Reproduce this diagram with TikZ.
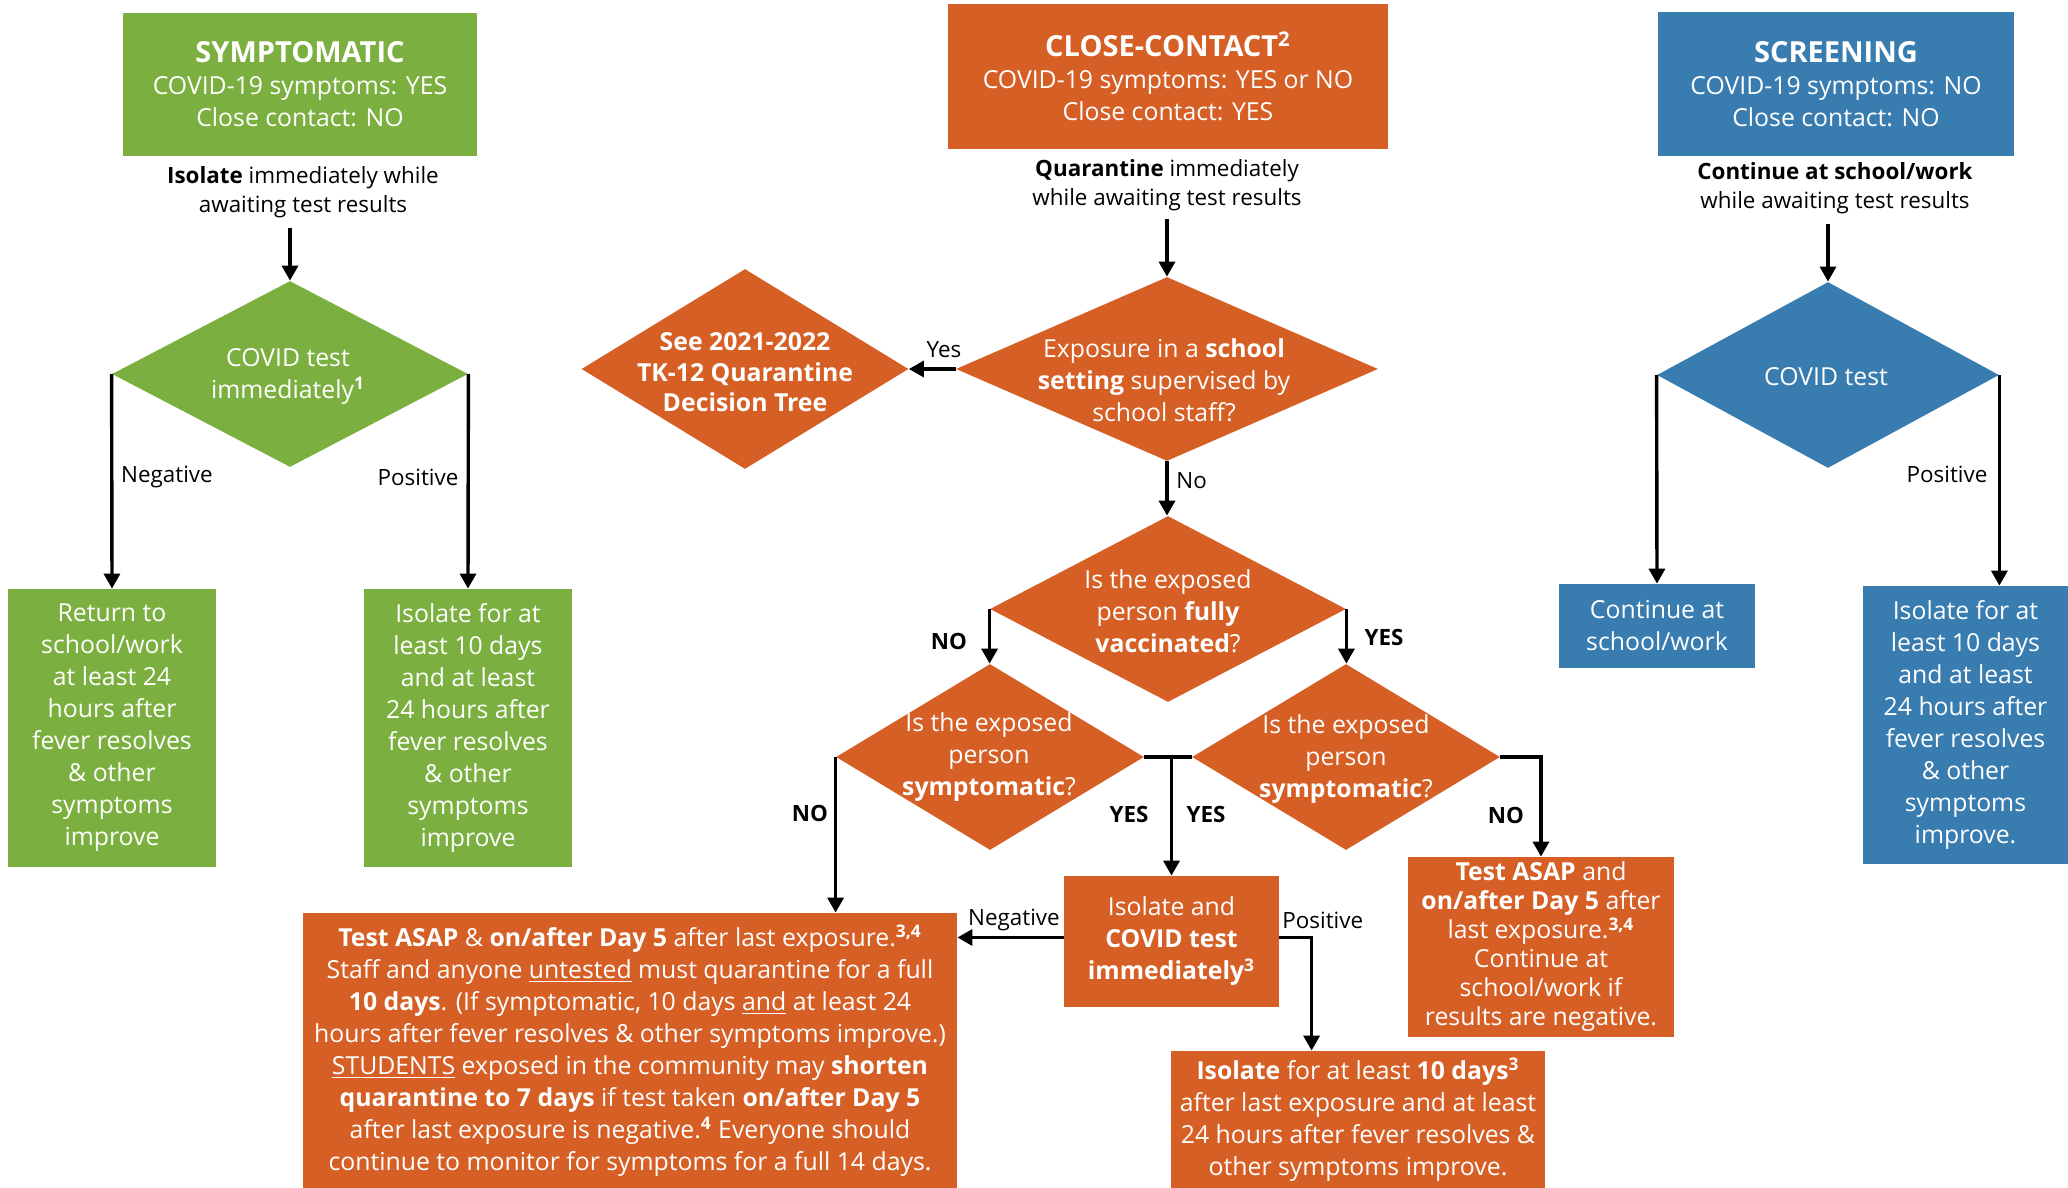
\documentclass[tikz,border=0pt]{standalone}
\usepackage{fontspec}
\setmainfont{Open Sans}
\usetikzlibrary{shapes.geometric,arrows.meta}
\definecolor{cgreen}{HTML}{7BB040}
\definecolor{corange}{HTML}{D65F26}
\definecolor{cblue}{HTML}{387CB0}
\newcommand{\cvttl}{\fontsize{14.5}{17}\selectfont\bfseries}
\begin{document}
\begin{tikzpicture}[x=0.5pt,y=-0.5pt,
  rbox/.style={rectangle, draw=none, inner sep=0pt, text=white, align=center, font=\fontsize{12.4}{16}\selectfont},
  dia/.style={diamond, draw=none, inner sep=0pt},
  dtxt/.style={text=white, align=center, inner sep=0pt, font=\fontsize{12.4}{16}\selectfont},
  note/.style={align=center, inner sep=0pt, font=\fontsize{11.2}{14.5}\selectfont},
  lbl/.style={inner sep=0pt, font=\fontsize{11.2}{13}\selectfont},
  blbl/.style={inner sep=0pt, font=\fontsize{11.2}{13}\selectfont\bfseries},
  arr/.style={line width=1.7pt, -{Triangle[length=7.5pt,width=8pt]}},
  ln/.style={line width=1.7pt},
]
\fill[white] (0,0) rectangle (2068,1188);
\useasboundingbox (0,0) rectangle (2068,1188);

% ---------- green column ----------
\node[rbox, fill=cgreen, minimum width=177pt, minimum height=71.5pt] (sym) at (300,84.5)
  {{\cvttl SYMPTOMATIC}\\COVID-19 symptoms: YES\\Close contact: NO};
\node[note] (symn) at (303,192.5) {\textbf{Isolate} immediately while\\awaiting test results};
\node[dia, fill=cgreen, minimum width=178pt, minimum height=93pt] (gd) at (290,374) {};
\node[dtxt] (gdt) at (288,376) {COVID test\\immediately\textsuperscript{\textbf{1}}};
\node[rbox, fill=cgreen, minimum width=104pt, minimum height=139pt] (gb1) at (112,728)
  {Return to\\school/work\\at least 24\\hours after\\fever resolves\\\& other\\symptoms\\improve};
\node[rbox, fill=cgreen, minimum width=104pt, minimum height=139pt] (gb2) at (468,728)
  {Isolate for at\\least 10 days\\and at least\\24 hours after\\fever resolves\\\& other\\symptoms\\improve};
\draw[arr] (gd.north |- symn.south) ++(0,9) -- (gd.north);
\draw[arr] (gd.west) -- (gb1.north);
\draw[arr] (gd.east) -- (gb2.north);
\node[lbl] (gneg) at (167,477) {Negative};
\node[lbl] (gpos) at (418,477) {Positive};

% ---------- orange column ----------
\node[rbox, fill=corange, minimum width=220pt, minimum height=72.5pt] (cc) at (1168,76.5)
  {{\cvttl CLOSE-CONTACT\textsuperscript{2}}\\COVID-19 symptoms: YES or NO\\Close contact: YES};
\node[note] (ccn) at (1167,185) {\textbf{Quarantine} immediately\\while awaiting test results};
\node[dia, fill=corange, minimum width=211pt, minimum height=92pt] (ex) at (1167,369) {};
\node[dtxt] (ext) at (1164,380) {Exposure in a \textbf{school}\\\textbf{setting} supervised by\\school staff?};
\node[dia, fill=corange, minimum width=163.5pt, minimum height=100pt] (see) at (745,369) {};
\node[dtxt, font=\fontsize{12.4}{15.25}\selectfont\bfseries] (seet) at (745,372.5) {See 2021-2022\\TK-12 Quarantine\\Decision Tree};
\draw[arr] (ccn.south -| ex.north) ++(0,8) -- (ex.north);
\draw[arr] (ex.west) -- (see.east);
\node[lbl] (yes1) at (944,350) {Yes};
\node[dia, fill=corange, minimum width=178pt, minimum height=93pt] (vac) at (1168,609) {};
\node[dtxt] (vact) at (1168,611) {Is the exposed\\person \textbf{fully}\\\textbf{vaccinated}?};
\draw[arr] (ex.south) -- (ex.south |- vac.north);
\node[lbl, anchor=west] (no1) at (1176,481) {No};
\node[dia, fill=corange, minimum width=154pt, minimum height=93pt] (ls) at (990,757) {};
\node[dtxt] (lst) at (989,757) {Is the exposed\\person\\\textbf{symptomatic}?};
\node[dia, fill=corange, minimum width=154pt, minimum height=93pt] (rs) at (1346,757) {};
\node[dtxt] (rst) at (1346,759) {Is the exposed\\person\\\textbf{symptomatic}?};
\draw[arr] (vac.west) -- (vac.west |- ls.north);
\draw[arr] (vac.east) -- (vac.east |- rs.north);
\node[blbl] (no2) at (949,641) {NO};
\node[blbl] (yes2) at (1384,637) {YES};

\node[rbox, fill=corange, minimum width=107.5pt, minimum height=65.5pt] (itest) at (1171.5,941.5)
  {Isolate and\\\textbf{COVID test}\\\textbf{immediately\textsuperscript{3}}};
\draw[ln] (ls.east) -- (rs.west);
\coordinate (yj) at (itest.north |- ls.east);
\draw[arr] (yj) -- (itest.north);
\node[blbl] (yes3) at (1129,814) {YES};
\node[blbl] (yes4) at (1206,814) {YES};

\node[rbox, fill=corange, minimum width=327pt, minimum height=137.5pt] (big) at (630,1050.5)
  {\textbf{Test ASAP} \& \textbf{on/after Day 5} after last exposure.\textsuperscript{\textbf{3,4}}\\
   Staff and anyone \underline{untested} must quarantine for a full\\
   \textbf{10 days}. (If symptomatic, 10 days \underline{and} at least 24\\
   hours after fever resolves \& other symptoms improve.)\\
   \underline{STUDENTS} exposed in the community may \textbf{shorten}\\
   \textbf{quarantine to 7 days} if test taken \textbf{on/after Day 5}\\
   after last exposure is negative.\textsuperscript{\textbf{4}} Everyone should\\
   continue to monitor for symptoms for a full 14 days.};
\draw[arr] (ls.west) -- (ls.west |- big.north);
\node[blbl] (no3) at (810,813) {NO};

\node[rbox, fill=corange, minimum width=133pt, minimum height=90pt, font=\fontsize{12.4}{14.5}\selectfont] (rtest) at (1541,947)
  {\textbf{Test ASAP} and\\\textbf{on/after Day 5} after\\last exposure.\textsuperscript{\textbf{3,4}}\\Continue at\\school/work if\\results are negative.};
\draw[arr] (rs.east) -| (rtest.north);
\node[blbl] (no4) at (1506,815) {NO};

\draw[arr] ([yshift=2pt]itest.west) -- ([yshift=2pt]itest.west -| big.east);
\node[lbl] (neg2) at (1014,920) {Negative};

\node[rbox, fill=corange, minimum width=187pt, minimum height=68.5pt] (iso) at (1358,1119.5)
  {\textbf{Isolate} for at least \textbf{10 days\textsuperscript{3}}\\after last exposure and at least\\24 hours after fever resolves \&\\other symptoms improve.};
\draw[arr] ([yshift=2pt]itest.east) -| ([xshift=70.5pt]iso.north west);
\node[lbl, anchor=west] (pos2) at (1282,920) {Positive};

% ---------- blue column ----------
\node[rbox, fill=cblue, minimum width=178pt, minimum height=72pt] (scr) at (1836,84)
  {{\cvttl SCREENING}\\COVID-19 symptoms: NO\\Close contact: NO};
\node[note] (scrn) at (1835,188.5) {\textbf{Continue at school/work}\\while awaiting test results};
\node[dia, fill=cblue, minimum width=171pt, minimum height=93pt] (bd) at (1828,375) {};
\node[dtxt] (bdt) at (1826,377) {COVID test};
\draw[arr] (bd.north |- scrn.south) ++(0,9) -- (bd.north);
\node[rbox, fill=cblue, minimum width=98pt, minimum height=42pt] (cont) at (1657,626)
  {Continue at\\school/work};
\node[rbox, fill=cblue, minimum width=102.5pt, minimum height=139pt] (biso) at (1965.5,725)
  {Isolate for at\\least 10 days\\and at least\\24 hours after\\fever resolves\\\& other\\symptoms\\improve.};
\draw[arr] (bd.west) -- (cont.north);
\draw[arr] (bd.east) -- (bd.east |- biso.north);
\node[lbl] (bpos) at (1947,474) {Positive};
\end{tikzpicture}
\end{document}
